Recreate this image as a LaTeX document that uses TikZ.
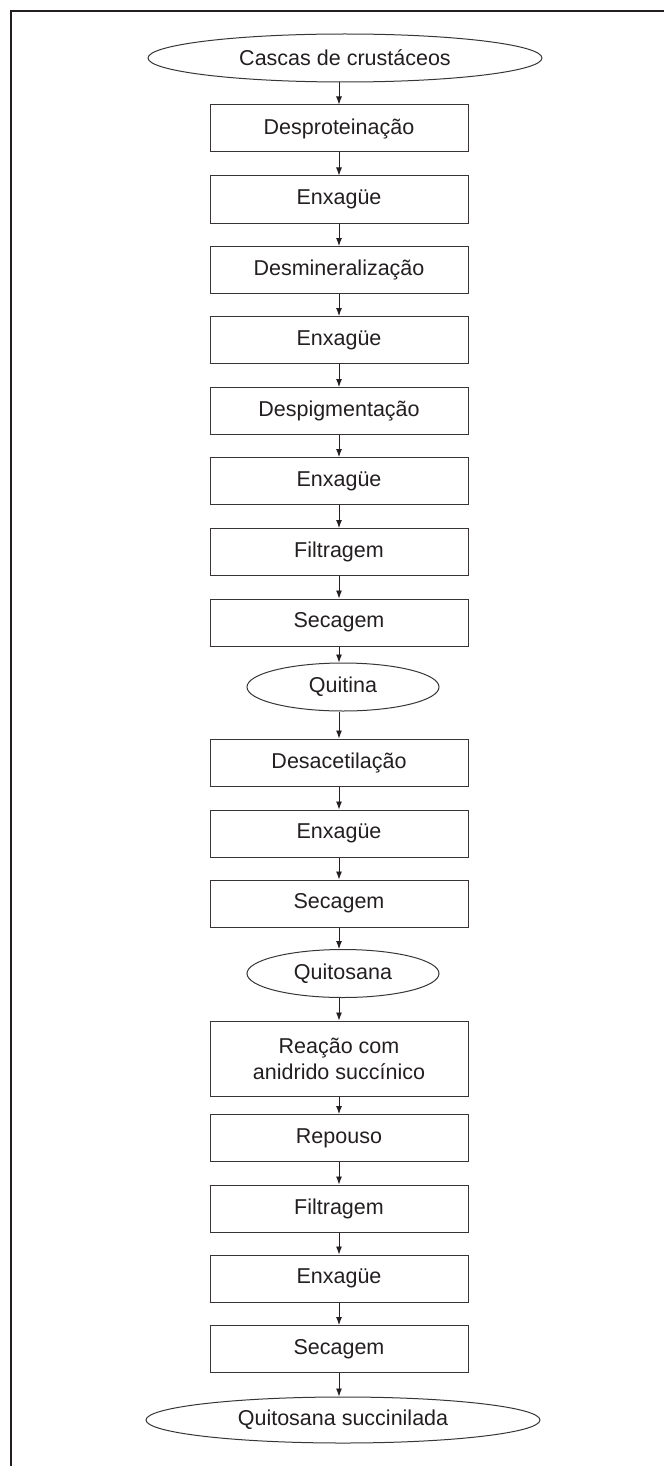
\documentclass[tikz,border=0pt]{standalone}
\usepackage{fontspec}
\setmainfont{Liberation Sans}
\usetikzlibrary{shapes.geometric,arrows.meta}
\definecolor{ink}{HTML}{231F20}
\begin{document}
\begin{tikzpicture}[x=1pt,y=-1pt,
  every node/.style={font=\fontsize{21.5}{26}\selectfont, text=ink},
  stepbox/.style={draw=ink!90, line width=1pt, minimum width=258pt, minimum height=47pt, inner sep=0pt, align=center},
  bigoval/.style={ellipse, draw=ink!90, line width=1pt, minimum width=394pt, minimum height=48pt, inner sep=0pt},
  smalloval/.style={ellipse, draw=ink!90, line width=1pt, minimum width=192pt, minimum height=48pt, inner sep=0pt},
  arr/.style={draw=ink, line width=0.9pt, -{Latex[length=8pt,width=6pt]}}
]
\useasboundingbox (0,0) rectangle (664,1466);
\draw[draw=ink, line width=1.3pt] (11,1466) -- (11,11) -- (664,11);

\node[bigoval] (c0) at (345,58) {Cascas de crustáceos};
\node[stepbox] (b1) at (339,128.5) {Desproteinação};
\node[stepbox] (b2) at (339,199.5) {Enxagüe};
\node[stepbox] (b3) at (339,270) {Desmineralização};
\node[stepbox] (b4) at (339,340) {Enxagüe};
\node[stepbox] (b5) at (339,411) {Despigmentação};
\node[stepbox] (b6) at (339,481) {Enxagüe};
\node[stepbox] (b7) at (339,552) {Filtragem};
\node[stepbox] (b8) at (339,622.5) {Secagem};
\node[smalloval] (e1) at (343,687) {Quitina};
\node[stepbox] (b9) at (339,762.5) {Desacetilação};
\node[stepbox] (b10) at (339,833.5) {Enxagüe};
\node[stepbox] (b11) at (339,903.5) {Secagem};
\node[smalloval] (e2) at (343,973.5) {Quitosana};
\node[stepbox, minimum height=75pt] (b12) at (339,1058.5) {Reação com\\anidrido succínico};
\node[stepbox] (b13) at (339,1138) {Repouso};
\node[stepbox] (b14) at (339,1208.5) {Filtragem};
\node[stepbox] (b15) at (339,1278.5) {Enxagüe};
\node[stepbox] (b16) at (339,1349) {Secagem};
\node[bigoval, minimum height=46pt] (e3) at (343,1420) {Quitosana succinilada};

\draw[arr] (b1.north |- c0.south) -- (b1.north);
\draw[arr] (b1) -- (b2);
\draw[arr] (b2) -- (b3);
\draw[arr] (b3) -- (b4);
\draw[arr] (b4) -- (b5);
\draw[arr] (b5) -- (b6);
\draw[arr] (b6) -- (b7);
\draw[arr] (b7) -- (b8);
\draw[arr] (b8.south) -- (b8.south |- e1.north);
\draw[arr] (b9.north |- e1.south) -- (b9.north);
\draw[arr] (b9) -- (b10);
\draw[arr] (b10) -- (b11);
\draw[arr] (b11.south) -- (b11.south |- e2.north);
\draw[arr] (b12.north |- e2.south) -- (b12.north);
\draw[arr] (b12) -- (b13);
\draw[arr] (b13) -- (b14);
\draw[arr] (b14) -- (b15);
\draw[arr] (b15) -- (b16);
\draw[arr] (b16.south) -- (b16.south |- e3.north);
\end{tikzpicture}
\end{document}
